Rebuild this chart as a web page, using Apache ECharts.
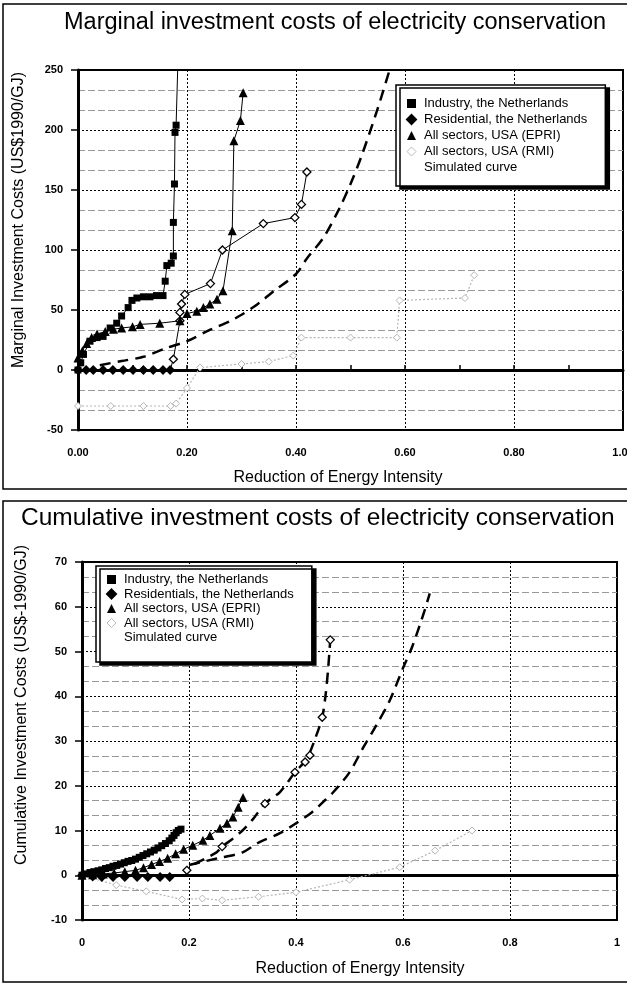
<!DOCTYPE html>
<html>
<head>
<meta charset="utf-8">
<script src="https://cdn.jsdelivr.net/npm/echarts@6/dist/echarts.min.js"></script>
<style>
  html, body { margin: 0; padding: 0; background: #fff; }
  #main { width: 627px; height: 984px; }
</style>
</head>
<body>
<div id="main"></div>
<script>
// top panel: marginal costs, [reduction of energy intensity, US$1990/GJ]
const margIndustry = [[0,0],[0.005,6],[0.01,13],[0.022,24],[0.035,27],[0.046,28],[0.059,35],[0.071,39],[0.08,45],[0.092,52],[0.099,58],[0.108,60],[0.12,61],[0.132,61],[0.144,62],[0.156,62],[0.16,74],[0.163,87],[0.171,89],[0.175,95],[0.175,123],[0.177,155],[0.178,198],[0.18,204],[0.186,300]];
const margResidential = [[0,0],[0.015,0],[0.028,0],[0.046,0],[0.064,0],[0.083,0],[0.101,0],[0.12,0],[0.138,0],[0.156,0],[0.169,0],[0.175,9],[0.187,41],[0.187,48],[0.19,55],[0.196,63],[0.243,72],[0.265,100],[0.34,122],[0.398,127],[0.41,138],[0.42,165]];
const margEpri = [[0,10],[0.008,16],[0.016,22],[0.025,27],[0.035,30],[0.05,32],[0.065,34],[0.08,35],[0.1,36],[0.114,38],[0.15,39],[0.187,41],[0.2,47],[0.218,49],[0.23,52],[0.242,55],[0.255,59],[0.266,66],[0.283,116],[0.286,191],[0.298,208],[0.303,231]];
const margRmi = [[0,-30],[0.06,-30],[0.12,-30],[0.17,-30],[0.18,-28],[0.2,-15],[0.224,2],[0.3,5],[0.35,7],[0.395,12],[0.41,27],[0.5,27],[0.585,27],[0.59,58],[0.71,60],[0.727,79]];
const margSimulated = [[0.04,4],[0.08,7.5],[0.12,11],[0.16,18],[0.2,24],[0.24,33],[0.28,41],[0.3,46],[0.33,55],[0.36,66],[0.4,80],[0.42,93],[0.45,110],[0.48,135],[0.5,155],[0.52,178],[0.55,218],[0.575,255]];

// bottom panel: cumulative costs, [reduction of energy intensity, US$-1990/GJ]
const cumIndustry = [[0,0],[0.008,0.3],[0.015,0.6],[0.022,0.8],[0.03,1],[0.037,1.2],[0.044,1.5],[0.051,1.7],[0.058,2],[0.065,2.2],[0.072,2.5],[0.079,2.8],[0.086,3.1],[0.093,3.3],[0.1,3.6],[0.107,4],[0.114,4.4],[0.121,4.8],[0.128,5.2],[0.135,5.6],[0.142,6.1],[0.149,6.6],[0.156,7.1],[0.163,7.7],[0.168,8.3],[0.172,8.9],[0.176,9.5],[0.18,10],[0.185,10.3]];
const cumResidential = [[0,0],[0.02,-0.3],[0.037,-0.4],[0.058,-0.4],[0.08,-0.4],[0.103,-0.4],[0.123,-0.4],[0.146,-0.4],[0.164,-0.4],[0.196,1.1],[0.262,6.4],[0.342,16],[0.398,23],[0.417,25.3],[0.426,26.8],[0.449,35.3],[0.464,52.6]];
const cumEpri = [[0,0],[0.02,0.1],[0.04,0.3],[0.06,0.5],[0.08,0.8],[0.1,1.1],[0.115,1.7],[0.13,2.4],[0.145,3.1],[0.16,3.8],[0.175,4.8],[0.19,5.8],[0.207,6.7],[0.226,7.8],[0.239,8.9],[0.258,10.5],[0.271,11.6],[0.282,13],[0.292,15.2],[0.301,17.4]];
const cumRmi = [[0,0],[0.064,-2.2],[0.12,-3.6],[0.187,-5.4],[0.225,-5.2],[0.262,-5.6],[0.33,-4.8],[0.4,-3.8],[0.5,-1],[0.594,1.8],[0.66,5.5],[0.729,10]];
const cumSimulated = [[0.2,2.3],[0.25,3.7],[0.3,5.1],[0.33,7.3],[0.37,9.4],[0.4,11.6],[0.43,14.1],[0.45,16.3],[0.47,18.6],[0.5,23],[0.525,28.4],[0.55,33.5],[0.575,39],[0.6,46.3],[0.617,51],[0.64,59],[0.65,63]];
const cumSimulatedRes = [[0.21,2.5],[0.25,5],[0.262,6.4],[0.28,8],[0.3,10],[0.32,12.6],[0.342,16],[0.37,18.6],[0.398,23],[0.42,26],[0.436,30.6],[0.449,35.3],[0.455,40],[0.46,46],[0.464,52.6]];

const namesTop = ['Industry, the Netherlands', 'Residential, the Netherlands', 'All sectors, USA (EPRI)', 'All sectors, USA (RMI)', 'Simulated curve'];
const namesBottom = ['Industry, the Netherlands', 'Residentials, the Netherlands', 'All sectors, USA (EPRI)', 'All sectors, USA (RMI)', 'Simulated curve'];

const FONT = '"Liberation Sans", Arial, Helvetica, sans-serif';
let myChart = echarts.init(document.getElementById('main'));

function xAxes(gi, digits) {
  return [
    {
      gridIndex: gi, type: 'value', min: 0, max: 1, interval: 0.2,
      axisLine: { show: false, onZero: false },
      axisTick: { show: false },
      axisLabel: {
        margin: 17, color: '#000', fontSize: 11, fontWeight: 'bold', fontFamily: FONT,
        formatter: v => digits ? v.toFixed(digits) : String(+v.toFixed(1))
      },
      splitLine: { lineStyle: { color: '#000', type: [2, 2], width: 1 } }
    },
    // heavy zero line with small ticks
    {
      gridIndex: gi, type: 'value', min: 0, max: 1, interval: 0.1,
      axisLine: { onZero: true, lineStyle: { color: '#000', width: 3 } },
      axisTick: { show: digits > 0, length: 5, lineStyle: { color: '#000', width: 1.5 } },
      axisLabel: { show: false },
      splitLine: { show: false }
    }
  ];
}

function yAxis(gi, min, max, step) {
  return {
    gridIndex: gi, type: 'value', min: min, max: max, interval: step,
    axisLine: { show: true, lineStyle: { color: '#000', width: 3 } },
    axisTick: { show: true, length: 7, lineStyle: { color: '#000', width: 1.5 } },
    axisLabel: { margin: 15, color: '#000', fontSize: 11, fontWeight: 'bold', fontFamily: FONT },
    splitLine: { lineStyle: { color: '#000', type: [2, 2], width: 1 } },
    minorTick: { show: false, splitNumber: 3 },
    minorSplitLine: { show: true, lineStyle: { color: '#999', type: [7, 3], width: 1 } }
  };
}

function marks(name, data, idx, symbol, size, style) {
  return {
    name: name, type: 'line', data: data, xAxisIndex: idx, yAxisIndex: idx / 2,
    symbol: symbol, symbolSize: size, showSymbol: true,
    lineStyle: { color: '#000', width: 1 },
    itemStyle: style, z: 4
  };
}

const openOrFilled = p => (p.value[1] > 1 ? '#fff' : '#000');

function panelSeries(idx, names, ind, res, epri, rmi, sims, resLine) {
  const list = [
    {
      name: names[3], type: 'line', data: rmi, xAxisIndex: idx, yAxisIndex: idx / 2,
      symbol: 'diamond', symbolSize: 7,
      lineStyle: { color: '#b5b5b5', width: 1.2, type: [2, 2] },
      itemStyle: { color: '#fff', borderColor: '#b5b5b5', borderWidth: 1 }, z: 2
    }
  ];
  sims.forEach(s => list.push({
    name: names[4], type: 'line', data: s, xAxisIndex: idx, yAxisIndex: idx / 2,
    symbol: 'none', smooth: 0.3,
    lineStyle: { color: '#000', width: 2.5, type: [11, 7] }, z: 3
  }));
  list.push(marks(names[0], ind, idx, 'rect', 7, { color: '#000' }));
  const r = marks(names[1], res, idx, 'diamond', 8, { color: openOrFilled, borderColor: '#000', borderWidth: 1.3 });
  if (!resLine) r.lineStyle = { opacity: 0 };
  list.push(r);
  list.push(marks(names[2], epri, idx, 'triangle', 9, { color: '#000' }));
  return list;
}

function legendFor(names, left, top, gap, pad) {
  const icons = ['rect', 'diamond', 'triangle', 'diamond', 'none'];
  return {
    orient: 'vertical', left: left, top: top,
    itemWidth: 9, itemHeight: 9, itemGap: gap,
    padding: pad,
    backgroundColor: '#fff', borderColor: '#000', borderWidth: 1.5,
    shadowColor: '#000', shadowBlur: 0, shadowOffsetX: 4, shadowOffsetY: 3,
    textStyle: { color: '#000', fontSize: 13, lineHeight: 13, fontFamily: FONT, padding: [0, 0, 0, 3] },
    data: names.map((n, i) => ({
      name: n, icon: icons[i],
      itemStyle: i === 3 ? { color: '#fff', borderColor: '#bbb', borderWidth: 1 } : { color: '#000' }
    }))
  };
}

function label(text, x, y, vertical) {
  return {
    type: 'text', x: x, y: y, rotation: vertical ? Math.PI / 2 : 0, silent: true,
    style: { text: text, fill: '#000', font: '16px ' + FONT, align: 'center', verticalAlign: 'middle' }
  };
}

option = {
  animation: false,
  backgroundColor: '#fff',
  title: [
    { text: 'Marginal investment costs of electricity conservation', left: 59, top: 6,
      textStyle: { color: '#000', fontSize: 23.5, fontWeight: 'normal', fontFamily: FONT } },
    { text: 'Cumulative investment costs of electricity conservation', left: 16, top: 501,
      textStyle: { color: '#000', fontSize: 24.5, fontWeight: 'normal', fontFamily: FONT } }
  ],
  legend: [
    legendFor(namesTop, 396, 85, 3, [12, 18, 12, 10]),
    legendFor(namesBottom, 96, 566, 1.5, [7, 18, 18, 10])
  ],
  grid: [
    { left: 78, top: 70, width: 545, height: 360, show: true, borderColor: '#000', borderWidth: 2, outerBoundsMode: 'none', containLabel: false },
    { left: 82, top: 562, width: 535, height: 358, show: true, borderColor: '#000', borderWidth: 2, outerBoundsMode: 'none', containLabel: false }
  ],
  xAxis: xAxes(0, 2).concat(xAxes(1, 0)),
  yAxis: [yAxis(0, -50, 250, 50), yAxis(1, -10, 70, 10)],
  graphic: [
    { type: 'rect', shape: { x: 3, y: 4, width: 630, height: 485 }, style: { fill: 'none', stroke: '#000', lineWidth: 1.5 }, silent: true },
    { type: 'rect', shape: { x: 3, y: 501, width: 630, height: 481 }, style: { fill: 'none', stroke: '#000', lineWidth: 1.5 }, silent: true },
    label('Marginal Investment Costs (US$1990/GJ)', 19, 220, true),
    label('Reduction of Energy Intensity', 338, 478, false),
    label('Cumulative Investment Costs (US$-1990/GJ)', 22, 705, true),
    label('Reduction of Energy Intensity', 360, 969, false)
  ],
  series: panelSeries(0, namesTop, margIndustry, margResidential, margEpri, margRmi, [margSimulated], true)
    .concat(panelSeries(2, namesBottom, cumIndustry, cumResidential, cumEpri, cumRmi, [cumSimulated, cumSimulatedRes], false))
};

myChart.setOption(option);
</script>
</body>
</html>
